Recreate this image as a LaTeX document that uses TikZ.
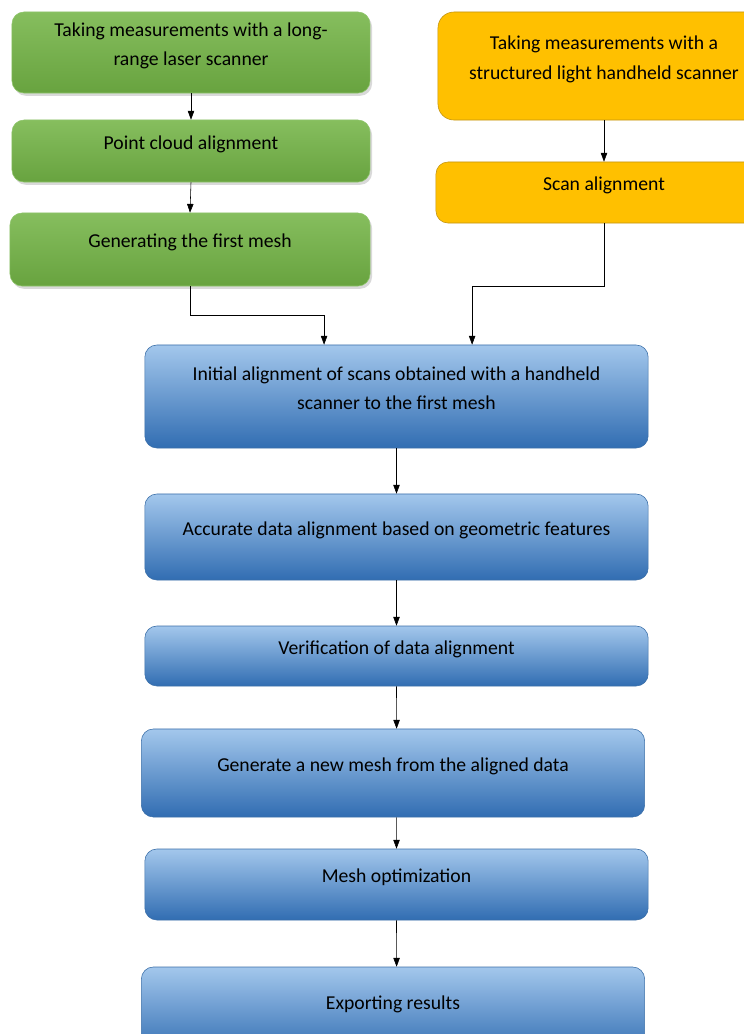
\documentclass[tikz,border=0pt]{standalone}
\usepackage{fontspec}
\setmainfont{Carlito}
\usetikzlibrary{arrows.meta,shadows}
\definecolor{grntop}{HTML}{86BE5E}
\definecolor{grnbot}{HTML}{68A33F}
\definecolor{grnline}{HTML}{8EC46A}
\definecolor{orgfill}{HTML}{FFC000}
\definecolor{orgline}{HTML}{C29312}
\definecolor{blutop}{HTML}{A3C7EC}
\definecolor{blubot}{HTML}{316DB2}
\definecolor{bluline}{HTML}{3B6FA8}
\begin{document}
\begin{tikzpicture}[x=0.025cm, y=-0.025cm,
    every node/.style={font=\fontsize{14}{21}\selectfont, align=center, text depth=0.42cm},
    greenbox/.style={rectangle, rounded corners=0.3cm, thin, draw=grnline,
        top color=grntop, bottom color=grnbot, minimum width=8.95cm,
        drop shadow={opacity=0.3, shadow xshift=0.5mm, shadow yshift=-0.7mm}},
    orangebox/.style={rectangle, rounded corners=0.4cm, thin, draw=orgline,
        fill=orgfill, minimum width=8.3cm},
    bluebox/.style={rectangle, rounded corners=0.3cm, thin, draw=bluline,
        top color=blutop, bottom color=blubot, minimum width=12.58cm},
    arr/.style={-{Triangle[length=2.2mm,width=1.6mm]}, thin, black}]
    \useasboundingbox (0,0) rectangle (744,1034);
    \clip (0,0) rectangle (744,1034);

    % left branch
    \node[greenbox, minimum height=2.025cm] (G1) at (191,52.5)
        {Taking measurements with a long-\\range laser scanner};
    \node[greenbox, minimum height=1.55cm] (G2) at (191,151) {Point cloud alignment};
    \node[greenbox, minimum height=1.825cm, minimum width=9cm] (G3) at (190,249.5)
        {Generating the first mesh};

    % right branch
    \node[orangebox, minimum height=2.7cm] (O1) at (604,66)
        {Taking measurements with a\\structured light handheld scanner};
    \node[orangebox, minimum height=1.525cm, rounded corners=0.3cm, minimum width=8.4cm] (O2) at (604,192.5)
        {Scan alignment};

    % main column
    \node[bluebox, minimum height=2.575cm] (B1) at (396.5,396.5)
        {Initial alignment of scans obtained with a handheld\\scanner to the first mesh};
    \node[bluebox, minimum height=2.15cm] (B2) at (396.5,537)
        {Accurate data alignment based on geometric features};
    \node[bluebox, minimum height=1.5cm] (B3) at (396.5,656)
        {Verification of data alignment};
    \node[bluebox, minimum height=2.2cm] (B4) at (393,773)
        {Generate a new mesh from the aligned data};
    \node[bluebox, minimum height=1.775cm] (B5) at (396.5,884.5)
        {Mesh optimization};
    \node[bluebox, minimum height=2.2cm] (B6) at (393,1011)
        {Exporting results};

    \draw[arr] (G1.south) -- (G2.north);
    \draw[arr] (G2.south) -- (G3.north);
    \draw[arr] (O1.south) -- (O2.north);
    \draw[arr] (G3.south) -- ++(0,29) -| ([xshift=-1.81cm]B1.north);
    \draw[arr] (O2.south) -- ++(0,63) -| ([xshift=1.89cm]B1.north);
    \draw[arr] (B1.south) -- (B2.north);
    \draw[arr] (B2.south) -- (B3.north);
    \draw[arr] (B3.south) -- ([xshift=0.09cm]B4.north);
    \draw[arr] ([xshift=0.09cm]B4.south) -- (B5.north);
    \draw[arr] (B5.south) -- ([xshift=0.09cm]B6.north);
\end{tikzpicture}
\end{document}
